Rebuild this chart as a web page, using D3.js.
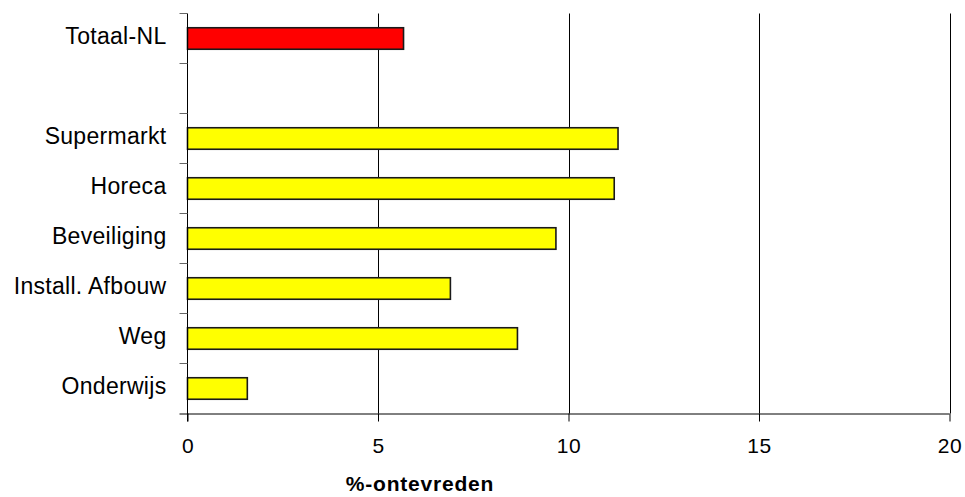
<!DOCTYPE html>
<html>
<head>
<meta charset="utf-8">
<script src="https://cdn.jsdelivr.net/npm/d3@7"></script>
<style>
  html, body { margin: 0; padding: 0; background: #fff; }
  svg { display: block; }
  text { font-family: "Liberation Sans", Arial, sans-serif; fill: #000; }
</style>
</head>
<body>
<svg id="chart" width="965" height="497"></svg>
<script>
// Share of dissatisfied respondents per sector (percent)
const categories = ["Totaal-NL", "", "Supermarkt", "Horeca", "Beveiliging", "Install. Afbouw", "Weg", "Onderwijs"];
const values     = [5.67, null, 11.3, 11.2, 9.67, 6.9, 8.66, 1.57];
const barColors  = ["#ff0000", null, "#ffff00", "#ffff00", "#ffff00", "#ffff00", "#ffff00", "#ffff00"];
const xTicks     = [0, 5, 10, 15, 20];
const xTitle     = "%-ontevreden";

const svg = d3.select("#chart");
const plotLeft = 187.5, plotRight = 949.5, plotTop = 13.5, plotBottom = 413.5;

const x = d3.scaleLinear().domain([0, 20]).range([plotLeft, plotRight]);
const y = d3.scaleBand().domain(categories.map((c, i) => i))
  .range([plotTop, plotBottom]).paddingInner(0.57).paddingOuter(0.285);

// vertical grid lines
svg.append("g").selectAll("line")
  .data(xTicks.filter(t => t > 0))
  .join("line")
  .attr("x1", d => Math.round(x(d)) + 0.5).attr("x2", d => Math.round(x(d)) + 0.5)
  .attr("y1", plotTop).attr("y2", plotBottom)
  .attr("stroke", "#000").attr("stroke-width", 1);

// bars
const rows = categories.map((c, i) => ({ i, c, v: values[i], col: barColors[i] }))
  .filter(d => d.v != null);
svg.append("g").selectAll("rect")
  .data(rows)
  .join("rect")
  .attr("x", x(0))
  .attr("y", d => y(d.i))
  .attr("width", d => x(d.v) - x(0))
  .attr("height", y.bandwidth())
  .attr("fill", d => d.col)
  .attr("stroke", "#1a1a1a")
  .attr("stroke-width", 1.6);

// x axis
const xAxis = d3.axisBottom(x).tickValues(xTicks).tickSize(8).tickPadding(17).tickFormat(d3.format("d"));
const gx = svg.append("g").attr("transform", `translate(0,${plotBottom})`).call(xAxis);
gx.select(".domain").attr("stroke", "#000").attr("d", `M${plotLeft - 8},0.5H${plotRight}`);
gx.selectAll(".tick line").attr("stroke", "#000");
gx.selectAll(".tick text").attr("font-size", 21).attr("letter-spacing", "0.5px")
  .attr("font-family", "Liberation Sans, Arial, sans-serif");

// y axis: ticks sit on band boundaries
const boundaries = d3.range(categories.length + 1).map(i => plotTop + i * y.step());
svg.append("line")
  .attr("x1", plotLeft).attr("x2", plotLeft).attr("y1", plotTop).attr("y2", plotBottom + 8)
  .attr("stroke", "#000");
svg.append("g").selectAll("line")
  .data(boundaries.slice(0, -1))
  .join("line")
  .attr("x1", plotLeft - 8).attr("x2", plotLeft)
  .attr("y1", d => d).attr("y2", d => d)
  .attr("stroke", "#666");

// category labels
svg.append("g").selectAll("text")
  .data(categories.map((c, i) => ({ c, i })).filter(d => d.c))
  .join("text")
  .attr("x", plotLeft - 21)
  .attr("y", d => y(d.i) + y.bandwidth() / 2 + 5.5)
  .attr("text-anchor", "end")
  .attr("font-size", 23)
  .attr("letter-spacing", "0.3px")
  .text(d => d.c);

// axis title
svg.append("text")
  .attr("x", 420).attr("y", 491)
  .attr("text-anchor", "middle")
  .attr("font-size", 21)
  .attr("font-weight", "bold")
  .attr("letter-spacing", "0.8px")
  .text(xTitle);
</script>
</body>
</html>
